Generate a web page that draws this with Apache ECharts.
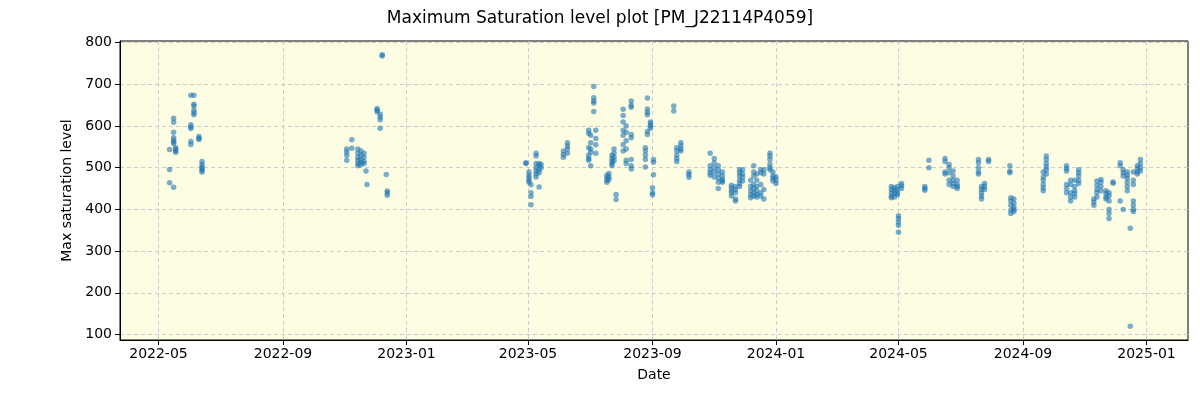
<!DOCTYPE html>
<html>
<head>
<meta charset="utf-8">
<script src="https://cdn.jsdelivr.net/npm/echarts@6/dist/echarts.min.js"></script>
<style>
html,body{margin:0;padding:0;background:#fff;}
#chart{width:1200px;height:400px;}
</style>
</head>
<body>
<div id="chart"></div>
<script>
const titleText = 'Maximum Saturation level plot [PM_J22114P4059]';
const xTickDates = ['2022-05-01','2022-09-01','2023-01-01','2023-05-01','2023-09-01','2024-01-01','2024-05-01','2024-09-01','2025-01-01'];
const yTicks = [100,200,300,400,500,600,700,800];
const xRange = ['2022-03-24','2025-02-11'];
const yRange = [86.8, 804];

const obsDates = [
 '2022-05-12','2022-05-16','2022-05-18','2022-06-02','2022-06-05','2022-06-10','2022-06-13',
 '2022-11-03','2022-11-08','2022-11-14','2022-11-17','2022-11-20','2022-11-22','2022-11-23',
 '2022-12-03','2022-12-06','2022-12-08','2022-12-12','2022-12-13',
 '2023-04-29','2023-05-02','2023-05-04','2023-05-09','2023-05-12','2023-05-14',
 '2023-06-05','2023-06-09','2023-06-30','2023-07-02','2023-07-05','2023-07-07',
 '2023-07-18','2023-07-20','2023-07-23','2023-07-25','2023-07-27',
 '2023-08-03','2023-08-06','2023-08-11','2023-08-25','2023-08-27','2023-08-30','2023-09-01','2023-09-02',
 '2023-09-22','2023-09-25','2023-09-29','2023-10-07',
 '2023-10-28','2023-11-01','2023-11-05','2023-11-09',
 '2023-11-18','2023-11-22','2023-11-26','2023-11-29',
 '2023-12-07','2023-12-10','2023-12-13','2023-12-17','2023-12-20',
 '2023-12-26','2023-12-29','2024-01-01',
 '2024-04-24','2024-04-27','2024-04-30','2024-05-01','2024-05-04',
 '2024-05-27','2024-05-31','2024-06-16','2024-06-20','2024-06-24','2024-06-28',
 '2024-07-19','2024-07-22','2024-07-25','2024-07-29',
 '2024-08-19','2024-08-20','2024-08-23',
 '2024-09-21','2024-09-24',
 '2024-10-14','2024-10-18','2024-10-22','2024-10-26',
 '2024-11-10','2024-11-13','2024-11-17','2024-11-22','2024-11-25','2024-11-29',
 '2024-12-06','2024-12-09','2024-12-13','2024-12-16','2024-12-19','2024-12-23','2024-12-26'
];
const obsValues = [
 [544,496,464],[619,609,585,572,566,562,558,453],[548,545,540,537],[674,603,598,594,563,556],[674,652,648,638,632,627],[575,571,568],[515,508,502,498,494,490],
 [545,538,530,518],[567,547],[545,535,525,518,510,505],[540,530,520,513,507],[535,525,515,510],[492],[460],
 [642,638,634],[628,622,615,595],[771,768],[484],[444,440,434],
 [512,510],[490,482,476,470,465],[459,440,431,411],[535,528,510,500,492,485,478],[510,505,495,488,454],[508,500],
 [540,532,525],[560,552,545,535],[590,583,548,530,522,518],[578,560,545,537,505],[695,668,660,655,635],[590,570,555,535],
 [482,476,470,465],[486,478,472],[530,522,515,510,505],[545,535,525,517],[436,424],
 [640,625,610,590,578,555,540],[600,585,565,545,518,510],[660,650,645,580,572,520,505,497],[548,540,530,520,502],[667,641,633,627,587,580],[610,605,600,595],[452,440,435],[520,513,483],
 [648,636],[548,540,530,522,515],[560,553,545,540],[490,484,477],
 [535,505,495,488,482],[522,512,500,490,478],[505,495,485,475,465,450],[490,480,472,468,465],
 [458,452,445,440,432],[455,448,440,425,420],[495,488,480,470,462,455],[495,485,478,468],
 [470,455,445,435,428],[505,490,480,460,450,440,432],[485,470,455,445,435,430],[495,488,460,440,432],[495,485,448,425],
 [535,528,520,508,500,495],[490,480,475,468],[478,470,462],
 [455,448,440,432,428],[452,445,438,430],[455,448,440,435],[385,378,370,362,345],[462,457,450],
 [455,450,446],[518,500],[522,515,490,485],[508,500,488,470,460],[492,480,470,462,455],[470,460,455,450],
 [520,512,500,490,485],[455,448,440,432,425],[462,455,448],[520,515],
 [505,492,488],[428,420,410,398,390],[425,415,405,400,395],
 [490,478,470,460,452,445],[528,520,510,502,495,485],
 [505,498,492,460,450,440],[470,460,440,430,420],[470,455,445,438,430],[495,488,480,470,462],
 [425,418,410],[468,458,448,440,430],[472,465,455,445],[445,438,430,425],[440,432,420,400,390,378],[466,463],
 [512,505,420],[495,488,480,400],[490,482,475,465,455,445],[355,120],[490,470,460,420,410,400,395],[505,498,490,485],[520,510,500,492]
];

const points = [];
obsDates.forEach((d, i) => obsValues[i].forEach(v => points.push([d, v])));

const ts = s => new Date(s + 'T00:00:00Z').getTime();
const pad = n => (n < 10 ? '0' : '') + n;
const fmt = v => { const d = new Date(v); return d.getUTCFullYear() + '-' + pad(d.getUTCMonth() + 1); };

const FONT = 'DejaVu Sans';
const chart = echarts.init(document.getElementById('chart'), null, {renderer: 'canvas'});
chart.setOption({
  animation: false,
  title: {text: titleText, left: 'center', top: 5, textStyle: {fontFamily: FONT, fontSize: 17, fontWeight: 'normal', color: '#000'}},
  grid: {left: 120, right: 12, top: 41, bottom: 60, show: true, backgroundColor: '#fdfde3', borderColor: '#000', borderWidth: 1},
  xAxis: {
    type: 'value', min: ts(xRange[0]), max: ts(xRange[1]), scale: true,
    name: 'Date', nameLocation: 'middle', nameGap: 28,
    nameTextStyle: {fontFamily: FONT, fontSize: 14, color: '#000'},
    axisLine: {show: true, onZero: false, lineStyle: {color: '#000', width: 1}},
    axisTick: {show: true, inside: false, length: 5, lineStyle: {color: '#000'}, customValues: xTickDates.map(ts)},
    axisLabel: {fontFamily: FONT, fontSize: 14, color: '#000', margin: 7, customValues: xTickDates.map(ts), formatter: fmt, hideOverlap: false},
    splitLine: {show: true, lineStyle: {color: '#cccccc', type: [4, 3], width: 1}}
  },
  yAxis: {
    type: 'value', min: yRange[0], max: yRange[1],
    name: 'Max saturation level', nameLocation: 'middle', nameGap: 43,
    nameTextStyle: {fontFamily: FONT, fontSize: 14, color: '#000'},
    axisLine: {show: true, onZero: false, lineStyle: {color: '#000', width: 1}},
    axisTick: {show: true, inside: false, length: 5, lineStyle: {color: '#000'}, customValues: yTicks},
    axisLabel: {fontFamily: FONT, fontSize: 14, color: '#000', margin: 8, customValues: yTicks},
    splitLine: {show: true, lineStyle: {color: '#cccccc', type: [4, 3], width: 1}}
  },
  series: [{
    type: 'scatter',
    data: points.map(p => [ts(p[0]), p[1]]),
    symbolSize: 5.5,
    itemStyle: {color: '#1f77b4', opacity: 0.6}
  }]
});
</script>
</body>
</html>
